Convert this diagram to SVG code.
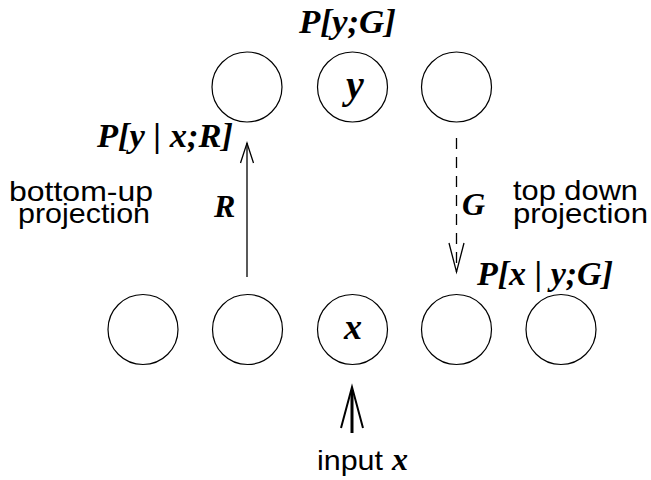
<svg xmlns="http://www.w3.org/2000/svg" width="651" height="480" viewBox="0 0 651 480">
<style>
.n{fill:none;stroke:#000;stroke-width:1.2}
.m{font-family:"Liberation Serif","Times New Roman",serif;font-weight:bold;font-style:italic;fill:#000}
.s{font-family:"Liberation Sans",Arial,sans-serif;font-size:28px;fill:#000}
.c{stroke:#000;fill:none;stroke-width:1.3}
</style>
<rect width="651" height="480" fill="#fff"/>
<g id="top1"><circle class="n" cx="247" cy="87" r="35"/></g>
<g id="top2"><circle class="n" cx="352.5" cy="87" r="35"/><text class="m" x="355" y="98" font-size="40" text-anchor="middle">y</text></g>
<g id="top3"><circle class="n" cx="456.5" cy="87" r="35"/></g>
<g id="bot1"><circle class="n" cx="143" cy="329.5" r="35"/></g>
<g id="bot2"><circle class="n" cx="247.5" cy="329.5" r="35"/></g>
<g id="bot3"><circle class="n" cx="352.5" cy="329.5" r="35"/><text class="m" x="353" y="339" font-size="36" text-anchor="middle">x</text></g>
<g id="bot4"><circle class="n" cx="456.5" cy="329.5" r="35"/></g>
<g id="bot5"><circle class="n" cx="561" cy="329.5" r="35"/></g>
<g id="labels">
<text class="m" x="299" y="33" font-size="33" textLength="97" lengthAdjust="spacingAndGlyphs">P[y;G]</text>
<text class="m" x="97" y="147" font-size="33" textLength="136" lengthAdjust="spacingAndGlyphs">P[y | x;R]</text>
<text class="m" x="477" y="285" font-size="33" textLength="136" lengthAdjust="spacingAndGlyphs">P[x | y;G]</text>
<text class="m" x="214" y="217" font-size="32">R</text>
<text class="m" x="462" y="215" font-size="32">G</text>
<text class="s"><tspan x="9" y="201" textLength="144" lengthAdjust="spacingAndGlyphs">bottom-up</tspan><tspan x="18" y="223" textLength="132" lengthAdjust="spacingAndGlyphs">projection</tspan></text>
<text class="s"><tspan x="513" y="200" textLength="125" lengthAdjust="spacingAndGlyphs">top down</tspan><tspan x="513" y="223" textLength="135" lengthAdjust="spacingAndGlyphs">projection</tspan></text>
<text class="s" x="317" y="470" textLength="66" lengthAdjust="spacingAndGlyphs">input</text>
<text class="m" x="392" y="470" font-size="32">x</text>
</g>
<g id="connectors">
<line class="c" x1="247" y1="277" x2="247" y2="143"/>
<polyline class="c" points="240.5,163 247,143 253.5,163"/>
<line class="c" x1="456.5" y1="138" x2="456.5" y2="272" stroke-dasharray="11 8"/>
<polyline class="c" points="449,243 456.5,272 464,243"/>
<line x1="352" y1="433" x2="352" y2="390" stroke="#000" stroke-width="3"/>
<polyline points="341,428 352,387 363,428" fill="none" stroke="#000" stroke-width="2"/>
</g>
</svg>
